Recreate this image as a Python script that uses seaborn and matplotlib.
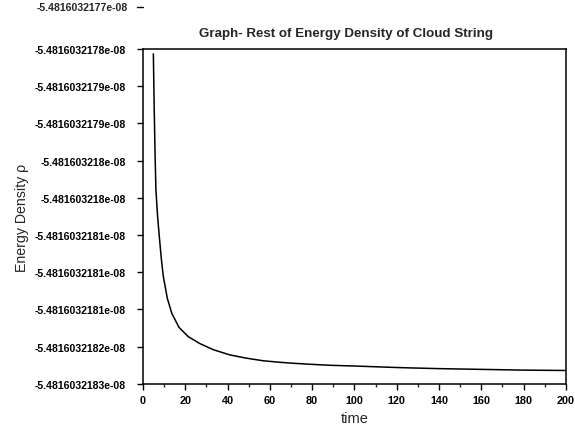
import numpy as np
import pandas as pd
import seaborn as sns
import matplotlib.pyplot as plt
from matplotlib.ticker import FixedLocator, FixedFormatter, MultipleLocator

time = [4.9, 5.3, 5.7, 6.1, 6.9, 7.7, 8.6, 9.6, 11.5, 13.6, 17.0, 21.4, 27.0,
        33.2, 41.0, 49.0, 57.0, 64.8, 69.5, 78.0, 88.4, 100.0, 110.0, 120.0,
        126.0, 140.0, 160.0, 180.0, 200.0]
density = [8.87, 7.40, 6.20, 5.23, 4.50, 3.97, 3.40, 2.89, 2.30, 1.90, 1.52,
           1.27, 1.08, 0.92, 0.78, 0.69, 0.62, 0.58, 0.56, 0.53, 0.50, 0.48,
           0.46, 0.44, 0.43, 0.41, 0.39, 0.37, 0.36]

ytick_pos = [0, 1, 2, 3, 4, 5, 6, 7, 8, 9]
ytick_labels = ['-5.4816032183e-08', '-5.4816032182e-08', '-5.4816032181e-08',
                '-5.4816032181e-08', '-5.4816032181e-08', '-5.481603218e-08',
                '-5.481603218e-08', '-5.4816032179e-08', '-5.4816032179e-08',
                '-5.4816032178e-08']
extra_label = '-5.4816032177e-08'

title = 'Graph- Rest of Energy Density of Cloud String'


def main():
    df = pd.DataFrame({'time': time, 'density': density})

    sns.set_theme(style='ticks')
    plt.rcParams['font.family'] = ['Liberation Sans', 'DejaVu Sans']

    fig = plt.figure(figsize=(5.75, 4.31), dpi=100)
    ax = fig.add_axes([0.2487, 0.107, 0.7353, 0.777])

    sns.lineplot(data=df, x='time', y='density', color='black', linewidth=1.1, ax=ax)

    ax.set_xlim(0, 200)
    ax.set_ylim(0, 9)
    ax.xaxis.set_major_locator(MultipleLocator(20))
    ax.xaxis.set_minor_locator(MultipleLocator(10))
    ax.yaxis.set_major_locator(FixedLocator(ytick_pos))
    ax.yaxis.set_major_formatter(FixedFormatter(ytick_labels))

    for s in ax.spines.values():
        s.set_color('black')
        s.set_linewidth(1.1)
    ax.tick_params(axis='y', direction='out', length=4.5, width=1, pad=8,
                   labelsize=7.6, colors='black')
    ax.tick_params(axis='x', which='major', direction='out', length=4, width=1,
                   pad=4, labelsize=7.8, colors='black')
    ax.tick_params(axis='x', which='minor', direction='out', length=2.5, width=1)
    for lab in ax.get_xticklabels() + ax.get_yticklabels():
        lab.set_fontweight('bold')

    # tick label that sits above the plot frame
    ax.text(-0.035, 10.13, extra_label, transform=ax.get_yaxis_transform(),
            ha='right', va='center', fontsize=7.6, fontweight='bold', clip_on=False)
    ax.plot([-0.015, 0.0], [10.13, 10.13], transform=ax.get_yaxis_transform(),
            color='black', lw=1, clip_on=False)

    ax.set_title(title, fontsize=9.6, fontweight='bold', pad=9, x=0.48)
    ax.set_xlabel('time', fontsize=10.5, labelpad=4)
    ax.set_ylabel('Energy Density ρ', fontsize=10.2, labelpad=4)

    fig.savefig('out.png', dpi=100)


if __name__ == '__main__':
    main()
